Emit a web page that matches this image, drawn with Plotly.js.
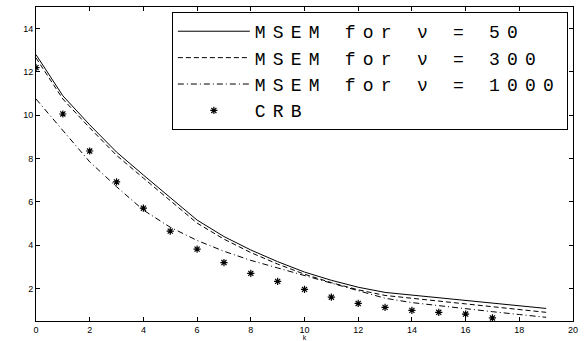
<!DOCTYPE html>
<html>
<head>
<meta charset="utf-8">
<script src="https://cdn.plot.ly/plotly-3.0.1.min.js"></script>
<style>
html,body{margin:0;padding:0;background:#fff;}
#chart{width:584px;height:341px;}
.legendtext{letter-spacing:7.2px;}
</style>
</head>
<body>
<div id="chart"></div>
<script>
const k = [0,1,2,3,4,5,6,7,8,9,10,11,12,13,14,15,16,17,18,19];
const msem50 = [12.8,10.9,9.56,8.3,7.24,6.2,5.16,4.4,3.78,3.24,2.76,2.38,2.06,1.82,1.70,1.58,1.46,1.34,1.21,1.08];
const msem300 = [12.65,10.75,9.42,8.15,7.1,6.05,5.02,4.28,3.66,3.13,2.66,2.27,1.94,1.68,1.54,1.41,1.29,1.16,1.03,0.9];
const msem1000 = [10.75,9.3,7.85,6.7,5.62,4.83,4.22,3.72,3.3,2.95,2.6,2.25,1.92,1.55,1.35,1.2,1.07,0.93,0.8,0.67];
const kCrb = [0,1,2,3,4,5,6,7,8,9,10,11,12,13,14,15,16,17];
const crb = [12.2,10.06,8.35,6.92,5.71,4.65,3.82,3.2,2.7,2.33,1.96,1.6,1.31,1.13,0.99,0.9,0.82,0.64];
const names = ['MSEM for \u03bd = 50','MSEM for \u03bd = 300','MSEM for \u03bd = 1000','CRB'];
const xTicks = [0,2,4,6,8,10,12,14,16,18,20];
const yTicks = [2,4,6,8,10,12,14];

const traces = [
  {x:k, y:msem50, name:names[0], mode:'lines', line:{color:'#000', width:1, dash:'solid'}},
  {x:k, y:msem300, name:names[1], mode:'lines', line:{color:'#000', width:1, dash:'5px,3px'}},
  {x:k, y:msem1000, name:names[2], mode:'lines', line:{color:'#000', width:1, dash:'6px,3px,1px,3px'}},
  {x:kCrb, y:crb, name:names[3], mode:'markers', marker:{symbol:'asterisk-open', size:6, color:'#000', line:{color:'#000', width:1.2}}}
];

const axisCommon = {
  showgrid:false, zeroline:false, showline:true, linecolor:'#000', linewidth:1,
  mirror:'ticks', ticks:'inside', ticklen:4, tickcolor:'#000', tickwidth:1,
  tickfont:{family:'Liberation Sans, Arial, sans-serif', size:9, color:'#000'}
};

const layout = {
  width:584, height:341,
  margin:{l:36, r:11, t:7, b:20},
  paper_bgcolor:'#fff', plot_bgcolor:'#fff',
  showlegend:true,
  xaxis:Object.assign({}, axisCommon, {range:[0,20], tickvals:xTicks, ticktext:xTicks.map(String), automargin:false,
    title:{text:'k', font:{family:'Liberation Sans, Arial, sans-serif', size:7, color:'#000'}, standoff:6}}),
  yaxis:Object.assign({}, axisCommon, {range:[0.5,15], tickvals:yTicks, ticktext:yTicks.map(String)}),
  legend:{x:0.253, y:0.984, xanchor:'left', yanchor:'top', bgcolor:'#fff', bordercolor:'#000', borderwidth:1,
    font:{family:'Liberation Mono, DejaVu Sans Mono, monospace', size:18, color:'#000'},
    itemwidth:72, tracegroupgap:0}
};

Plotly.newPlot('chart', traces, layout, {displayModeBar:false, staticPlot:true});
</script>
</body>
</html>
